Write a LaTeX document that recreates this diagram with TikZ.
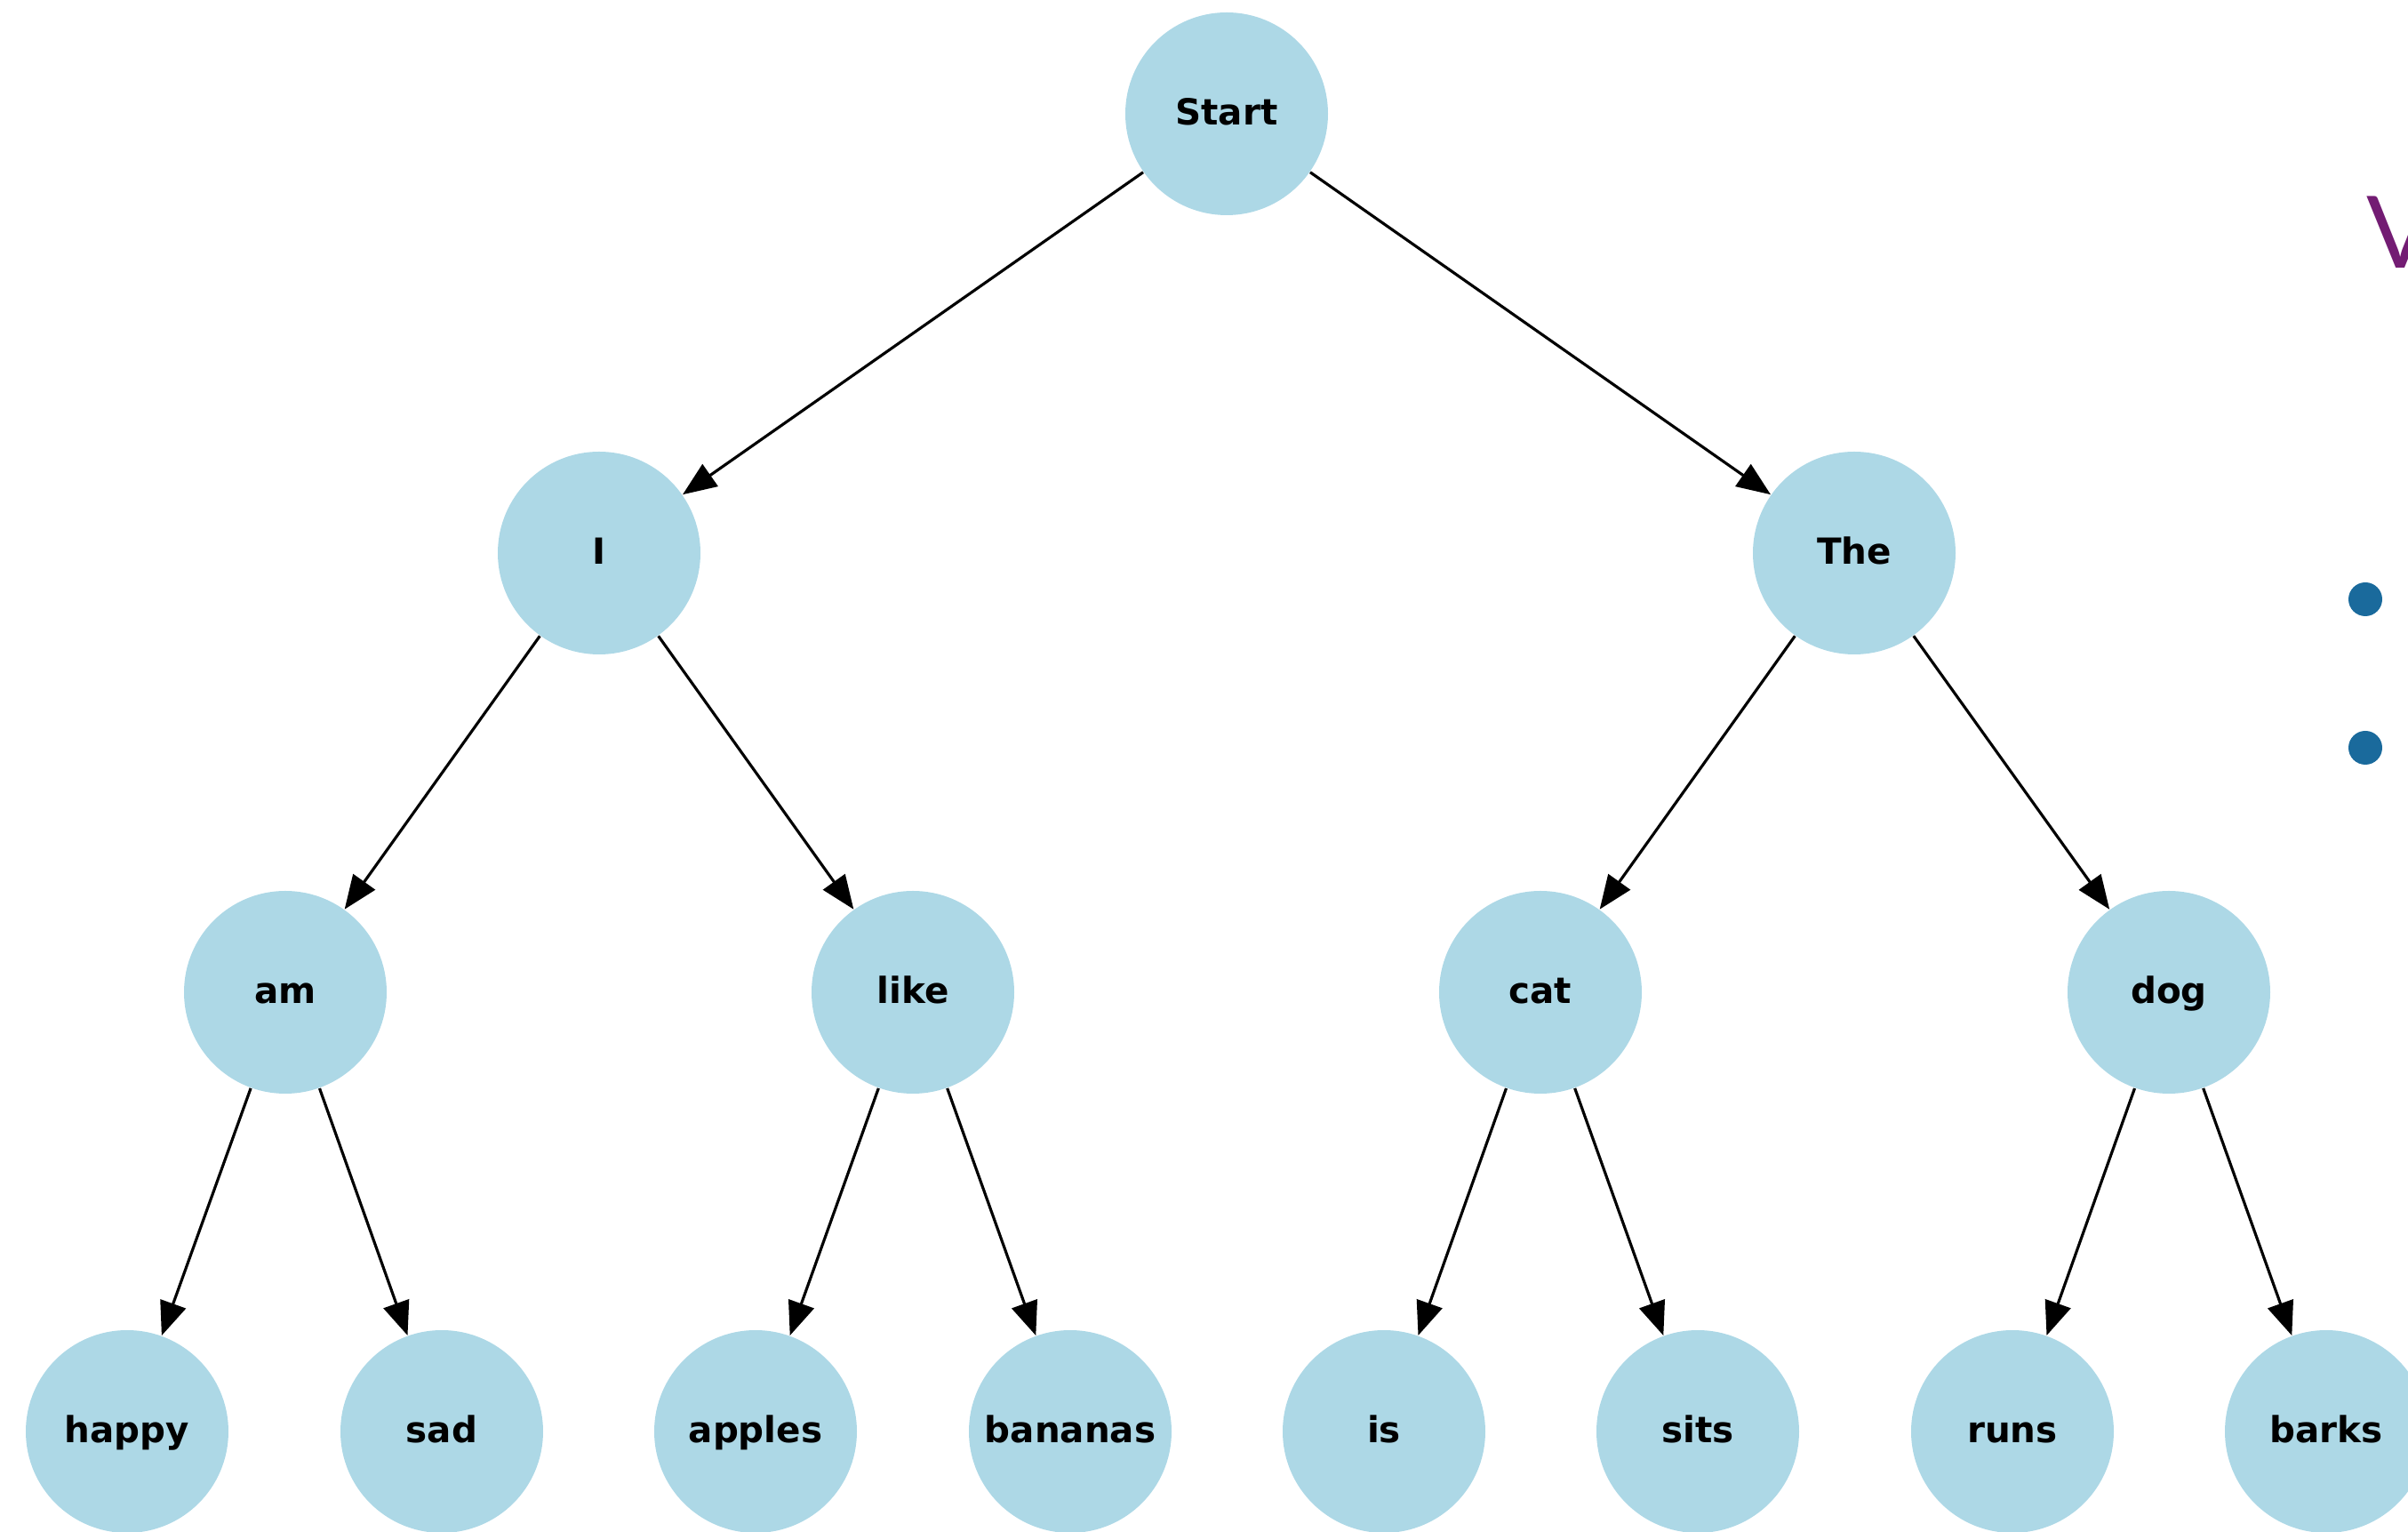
\documentclass[tikz,border=0pt]{standalone}
\usepackage{fontspec}
\setmainfont{DejaVu Sans}
\newfontfamily\titlefont{Lato}
\usetikzlibrary{arrows.meta}
\definecolor{nodeblue}{RGB}{173,216,230}
\definecolor{titlepurple}{RGB}{115,28,115}
\definecolor{bulletblue}{RGB}{26,106,156}
\tikzset{word/.style={circle,fill=nodeblue,minimum size=2.28cm,inner sep=0pt,text height=0.73em,text depth=0pt,font=\fontsize{11.5}{13}\selectfont\bfseries}}
\begin{document}
\begin{tikzpicture}[line join=round,>={Triangle[length=0.38cm,width=0.3cm]}]
	\useasboundingbox (0,0) rectangle (27.09,17.23);
	\clip (0,0) rectangle (27.09,17.23);
	\path (13.80,15.95)node[word](start){Start}
	(6.74,11.01)node[word](I){I} (20.86,11.01)node[word](the){The}
	(3.21,6.07)node[word](am){am} (10.27,6.07)node[word](like){like}
	(17.33,6.07)node[word](cat){cat} (24.40,6.07)node[word](dog){dog};
	\path (1.43,1.13)node[word](happy){happy} (4.97,1.13)node[word](sad){sad}
	(8.50,1.13)node[word](apples){apples} (12.04,1.13)node[word](bananas){bananas}
	(15.57,1.13)node[word](is){is} (19.10,1.13)node[word](sits){sits}
	(22.64,1.13)node[word](runs){runs} (26.17,1.13)node[word](barks){barks};

\draw[->,line width=0.9pt] (start)--(I);
\draw[->,line width=0.9pt] (start)--(the);
\draw[->,line width=0.9pt] (I)--(am);
\draw[->,line width=0.9pt] (I)--(like);
\draw[->,line width=0.9pt] (the)--(cat);
\draw[->,line width=0.9pt] (the)--(dog);
\draw[->,line width=0.9pt] (am)--(happy);
\draw[->,line width=0.9pt] (am)--(sad);
\draw[->,line width=0.9pt] (like)--(apples);
\draw[->,line width=0.9pt] (like)--(bananas);
\draw[->,line width=0.9pt] (cat)--(is);
\draw[->,line width=0.9pt] (cat)--(sits);
\draw[->,line width=0.9pt] (dog)--(runs);
\draw[->,line width=0.9pt] (dog)--(barks);

	\node[anchor=base west,inner sep=0pt,text=titlepurple,font=\titlefont\fontsize{32}{36}\selectfont](title) at (26.62,14.21){V};
		\fill[bulletblue] (26.61,10.49)circle(0.19);
		\fill[bulletblue] (26.61,8.82)circle(0.19);
\end{tikzpicture}
\end{document}
